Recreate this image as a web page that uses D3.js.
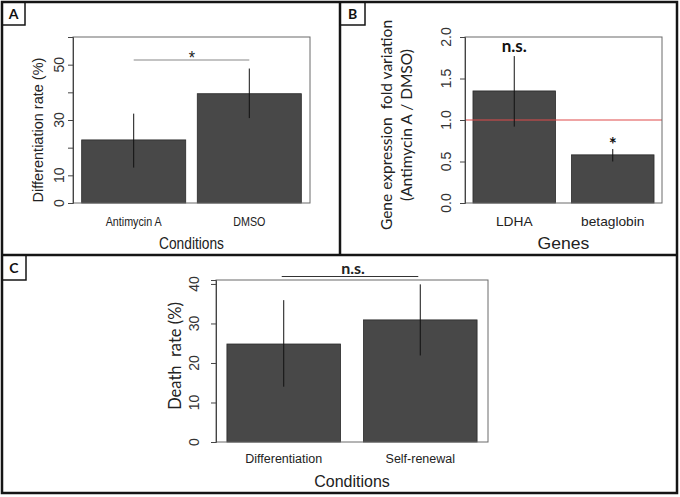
<!DOCTYPE html>
<html><head><meta charset="utf-8">
<script src="https://cdn.jsdelivr.net/npm/d3@7"></script>
<style>body{margin:0;background:#fff}svg{display:block}text{white-space:pre}</style>
</head><body><div id="chart"></div>
<script>
// ---- Data ----
const condA = ["Antimycin A", "DMSO"];
const valA = [22.8, 39.5];
const loA = [12.8, 30.7];
const hiA = [32.3, 48.6];
const ticksA = [0, 10, 20, 30, 40, 50];
const tickLabelsA = ["0", "10", "", "30", "", "50"];

const genesB = ["LDHA", "betaglobin"];
const valB = [1.35, 0.58];
const loB = [0.92, 0.50];
const hiB = [1.77, 0.65];
const ticksB = [0, 0.5, 1.0, 1.5, 2.0];
const refB = 1.0;
const sigB = ["n.s.", "*"];

const condC = ["Differentiation", "Self-renewal"];
const valC = [24.8, 30.9];
const loC = [14.0, 21.9];
const hiC = [35.9, 39.9];
const ticksC = [0, 10, 20, 30, 40];

const W = 680, H = 497;
const svg = d3.select("#chart").append("svg").attr("width", W).attr("height", H);
svg.append("rect").attr("width", W).attr("height", H).attr("fill", "#fff");

const RFONT = "'Liberation Sans', Arial, sans-serif";
const CFONT = "Lato, 'Open Sans', sans-serif";

function hText(g, x, y, txt, size, sx, opts = {}) {
  return g.append("text")
    .attr("transform", `translate(${x},${y}) scale(${sx},1)`)
    .attr("text-anchor", opts.anchor || "middle")
    .attr("font-family", opts.family || RFONT)
    .attr("font-size", size)
    .attr("font-weight", opts.weight || "normal")
    .attr("fill", opts.fill || "#1a1a1a")
    .text(txt);
}
function vText(g, x, y, txt, size, opts = {}) {
  return g.append("text")
    .attr("transform", `translate(${x},${y}) rotate(-90)`)
    .attr("text-anchor", "middle")
    .attr("font-family", opts.family || RFONT)
    .attr("font-size", size)
    .attr("font-weight", opts.weight || "normal")
    .attr("fill", opts.fill || "#1a1a1a")
    .text(txt);
}

function panel(cfg) {
  const g = svg.append("g");
  const x = d3.scaleBand().domain(cfg.cats).range([cfg.left, cfg.right])
    .paddingInner(cfg.pi).paddingOuter(cfg.po);
  const y = d3.scaleLinear().domain(cfg.ydom).range([cfg.bottom, cfg.top]);

  g.selectAll("rect.bar").data(cfg.vals).join("rect")
    .attr("x", (d, i) => x(cfg.cats[i]))
    .attr("width", x.bandwidth())
    .attr("y", d => y(d))
    .attr("height", d => y(0) - y(d))
    .attr("fill", "#484848").attr("stroke", "#2a2a2a").attr("stroke-width", 0.8);

  if (cfg.ref !== undefined) {
    g.append("line").attr("x1", cfg.left).attr("x2", cfg.right)
      .attr("y1", y(cfg.ref)).attr("y2", y(cfg.ref))
      .attr("stroke", "#e04a4a").attr("stroke-width", 1.2);
  }

  g.selectAll("line.err").data(cfg.vals).join("line")
    .attr("x1", (d, i) => x(cfg.cats[i]) + x.bandwidth() / 2)
    .attr("x2", (d, i) => x(cfg.cats[i]) + x.bandwidth() / 2)
    .attr("y1", (d, i) => y(cfg.lo[i]))
    .attr("y2", (d, i) => y(cfg.hi[i]))
    .attr("stroke", "#111").attr("stroke-width", 1);

  g.append("rect").attr("x", cfg.left).attr("y", cfg.top)
    .attr("width", cfg.right - cfg.left).attr("height", cfg.bottom - cfg.top)
    .attr("fill", "none").attr("stroke", "#6a6a6a").attr("stroke-width", 1);

  const ax = g.append("g").attr("transform", `translate(${cfg.left},0)`)
    .call(d3.axisLeft(y).tickValues(cfg.ticks).tickSize(5).tickFormat(""));
  ax.select(".domain").attr("stroke", "#444");
  ax.selectAll(".tick line").attr("stroke", "#444");
  cfg.ticks.forEach((t, i) => {
    const lab = cfg.tickLabels ? cfg.tickLabels[i] : cfg.fmt(t);
    if (lab) vText(g, cfg.tlx, y(t), lab, cfg.tsize, { fill: "#333" });
  });

  cfg.cats.forEach(c => {
    hText(g, x(c) + x.bandwidth() / 2, cfg.xly, c, 12.5, cfg.sx, { fill: "#222" });
  });
  hText(g, (cfg.left + cfg.right) / 2, cfg.xty, cfg.xtitle, 16, cfg.sx, { fill: "#222" });
  return { g, x, y };
}

// Panel A
const pA = panel({
  cats: condA, vals: valA, lo: loA, hi: hiA, ydom: [0, 60],
  left: 73, right: 310, top: 37, bottom: 203, pi: 0.1, po: 0.075,
  ticks: ticksA, tickLabels: tickLabelsA, tlx: 64, tsize: 14,
  xly: 226, xty: 249, xtitle: "Conditions", sx: 0.86
});
vText(pA.g, 43, 130, "Differentiation rate (%)", 14.5, { fill: "#222" });
pA.g.append("line")
  .attr("x1", pA.x(condA[0]) + pA.x.bandwidth() / 2).attr("x2", pA.x(condA[1]) + pA.x.bandwidth() / 2)
  .attr("y1", 60).attr("y2", 60).attr("stroke", "#888").attr("stroke-width", 1.2);
hText(pA.g, 192, 64, "*", 18, 0.9, { fill: "#222" });

// Panel B
const pB = panel({
  cats: genesB, vals: valB, lo: loB, hi: hiB, ydom: [0, 2], ref: refB,
  left: 465, right: 662, top: 37, bottom: 203, pi: 0.162, po: 0.081,
  ticks: ticksB, fmt: d3.format(".1f"), tlx: 451, tsize: 14,
  xly: 226, xty: 249, xtitle: "Genes", sx: 1.1
});
vText(pB.g, 392, 125, "Gene expression  fold variation", 15.5, { family: CFONT, fill: "#222" });
vText(pB.g, 412, 125, "(Antimycin A / DMSO)", 15.5, { family: CFONT, fill: "#222" });
genesB.forEach((c, i) => {
  const cx = pB.x(c) + pB.x.bandwidth() / 2;
  const yy = i === 0 ? pB.y(hiB[i]) - 4 : pB.y(hiB[i]) + 1.5;
  hText(pB.g, cx, yy, sigB[i], i === 0 ? 17 : 19, 1, { family: CFONT, weight: "bold", fill: "#111" });
});

// Panel C
const pC = panel({
  cats: condC, vals: valC, lo: loC, hi: hiC, ydom: [0, 41],
  left: 216, right: 488, top: 280, bottom: 442, pi: 0.168, po: 0.08,
  ticks: ticksC, fmt: d3.format("d"), tlx: 199, tsize: 14,
  xly: 463, xty: 487, xtitle: "Conditions", sx: 1
});
vText(pC.g, 181, 356, "Death  rate (%)", 16.5, { family: CFONT, fill: "#222" });
pC.g.append("line")
  .attr("x1", pC.x(condC[0]) + pC.x.bandwidth() / 2 - 2).attr("x2", pC.x(condC[1]) + pC.x.bandwidth() / 2 - 2)
  .attr("y1", 276.5).attr("y2", 276.5).attr("stroke", "#333").attr("stroke-width", 1.2);
hText(pC.g, 353, 274, "n.s.", 16, 1, { family: CFONT, weight: "bold", fill: "#222" });

// Panel frames
const fr = svg.append("g").attr("fill", "none").attr("stroke", "#151515");
fr.append("rect").attr("x", 2).attr("y", 2).attr("width", 675).attr("height", 491).attr("stroke-width", 2.5);
fr.append("line").attr("x1", 2).attr("x2", 677).attr("y1", 255).attr("y2", 255).attr("stroke-width", 2.5);
fr.append("line").attr("x1", 340).attr("x2", 340).attr("y1", 2).attr("y2", 255).attr("stroke-width", 2.5);
const boxes = [
  { l: "A", x: 2, y: 2, w: 23, h: 23 },
  { l: "B", x: 340, y: 2, w: 25, h: 23 },
  { l: "C", x: 2, y: 255, w: 24, h: 25 }
];
boxes.forEach(b => {
  fr.append("rect").attr("x", b.x).attr("y", b.y).attr("width", b.w).attr("height", b.h).attr("stroke-width", 1.5);
  svg.append("text").attr("x", b.x + b.w / 2).attr("y", b.y + b.h / 2 + 5)
    .attr("text-anchor", "middle").attr("font-family", CFONT).attr("font-weight", "bold")
    .attr("font-size", 14).attr("fill", "#111").text(b.l);
});
</script></body></html>
